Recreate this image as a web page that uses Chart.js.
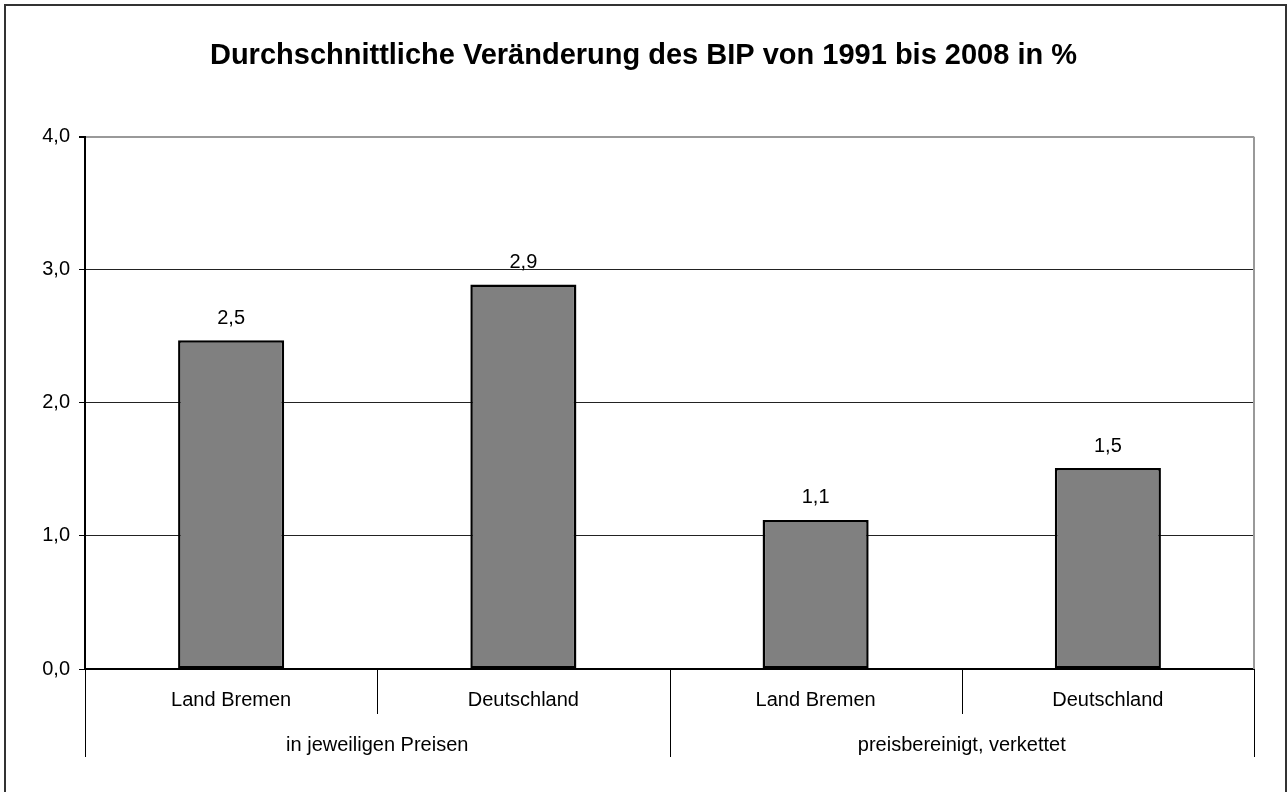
<!DOCTYPE html>
<html>
<head>
<meta charset="utf-8">
<title>BIP Veränderung</title>
<script src="https://cdn.jsdelivr.net/npm/chart.js@4"></script>
<style>
  html, body { margin: 0; padding: 0; background: #fff; }
  #wrap { width: 1287px; height: 792px; position: relative; }
</style>
</head>
<body>
<div id="wrap"><canvas id="bipChart" width="1287" height="792"></canvas></div>
<script>
'use strict';
const categories = ['Land Bremen', 'Deutschland', 'Land Bremen', 'Deutschland'];
const groups = ['in jeweiligen Preisen', 'preisbereinigt, verkettet'];
const groupSizes = [2, 2];
const values = [2.47, 2.89, 1.12, 1.51];
const yMin = 0;
const yMax = 4;
const yStep = 1;

const FONT = 'Liberation Sans, Arial, sans-serif';

function fmt(v) {
  return v.toFixed(1).replace('.', ',');
}

// frame, plot border, category separators, group labels, value labels
const extras = {
  id: 'extras',
  afterDraw(chart) {
    const ctx = chart.ctx;
    const area = chart.chartArea;
    const x = chart.scales.x;
    const n = categories.length;
    const step = (x.getPixelForValue(1) - x.getPixelForValue(0));
    ctx.save();

    // outer frame
    ctx.strokeStyle = '#333';
    ctx.lineWidth = 2;
    ctx.strokeRect(5, 5, 1281, 800);

    // plot area right border
    ctx.strokeStyle = '#999';
    ctx.lineWidth = 2;
    ctx.beginPath();
    ctx.moveTo(area.right, area.top);
    ctx.lineTo(area.right, area.bottom);
    ctx.stroke();

    // separators below axis
    ctx.strokeStyle = '#000';
    ctx.lineWidth = 1;
    const groupEnds = [];
    let acc = 0;
    groupSizes.forEach(s => { acc += s; groupEnds.push(acc); });
    for (let i = 0; i <= n; i++) {
      const px = Math.round(x.getPixelForValue(0) - step / 2 + i * step) + 0.5;
      const isGroupEdge = i === 0 || groupEnds.includes(i);
      ctx.beginPath();
      ctx.moveTo(px, area.bottom);
      ctx.lineTo(px, area.bottom + (isGroupEdge ? 88 : 45));
      ctx.stroke();
    }

    // group labels
    ctx.fillStyle = '#000';
    ctx.font = '20px ' + FONT;
    ctx.textAlign = 'center';
    ctx.textBaseline = 'middle';
    let start = 0;
    groups.forEach((g, gi) => {
      const left = x.getPixelForValue(start) - step / 2;
      const right = left + groupSizes[gi] * step;
      ctx.fillText(g, (left + right) / 2, area.bottom + 76);
      start += groupSizes[gi];
    });

    // value labels
    const meta = chart.getDatasetMeta(0);
    meta.data.forEach((bar, i) => {
      ctx.fillText(fmt(values[i]), bar.x, bar.y - 22);
    });
    ctx.restore();
  }
};

const ctx = document.getElementById('bipChart').getContext('2d');
const chart = new Chart(ctx, {
  type: 'bar',
  data: {
    labels: categories,
    datasets: [{
      label: 'BIP',
      data: values,
      backgroundColor: '#808080',
      borderColor: '#000',
      borderWidth: 2.5,
      borderSkipped: false,
      categoryPercentage: 1,
      barPercentage: 0.363
    }]
  },
  options: {
    responsive: false,
    animation: false,
    layout: { padding: { left: 33, right: 33, top: 0, bottom: 35 } },
    plugins: {
      legend: { display: false },
      tooltip: { enabled: false },
      title: {
        display: true,
        text: 'Durchschnittliche Veränderung des BIP von 1991 bis 2008 in %',
        color: '#000',
        font: { family: FONT, size: 29, weight: 'bold' },
        padding: { top: 39, bottom: 63 }
      }
    },
    scales: {
      x: {
        grid: { display: false, drawTicks: false },
        border: { color: '#000', width: 2 },
        ticks: { color: '#000', font: { family: FONT, size: 20 }, padding: 19, maxRotation: 0 },
        afterFit(scale) { scale.height = 88; }
      },
      y: {
        min: yMin,
        max: yMax,
        grid: {
          color: c => (c.tick && c.tick.value === yMax ? '#999' : '#222'),
          lineWidth: c => (c.tick && c.tick.value === yMax ? 2 : 1),
          tickColor: '#000',
          tickLength: 6
        },
        border: { color: '#000', width: 2 },
        ticks: {
          stepSize: yStep,
          color: '#000',
          padding: 9,
          font: { family: FONT, size: 20 },
          callback: v => fmt(v)
        },
        afterFit(scale) { scale.width = 52; }
      }
    }
  },
  plugins: [extras]
});
</script>
</body>
</html>
